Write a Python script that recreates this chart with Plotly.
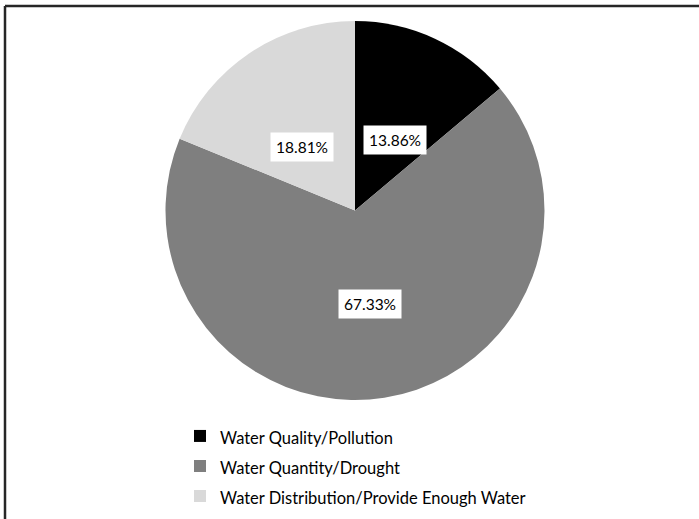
import math
import plotly.graph_objects as go

categories = ["Water Quality/Pollution", "Water Quantity/Drought", "Water Distribution/Provide Enough Water"]
values = [13.86, 67.33, 18.81]
colors = ["#000000", "#7f7f7f", "#d9d9d9"]

W, H = 699, 519
FONT = "Lato"

# pie placement (pixels)
cx_px, cy_px, R_px = 355, 210.5, 189.5
dom_x = [(cx_px - R_px) / W, (cx_px + R_px) / W]
dom_y = [(H - cy_px - R_px) / H, (H - cy_px + R_px) / H]

legend_labels = ['<span style="font-size:16.5px">%s</span>' % c for c in categories]

fig = go.Figure(go.Pie(
    labels=legend_labels,
    values=values,
    marker=dict(colors=colors, line=dict(width=0)),
    sort=False,
    direction="clockwise",
    rotation=0,
    textinfo="none",
    hoverinfo="label+percent",
    domain=dict(x=dom_x, y=dom_y),
))

# data labels in white boxes, placed at mid-angle of each slice
total = sum(values)
cum = 0.0
cxp = (dom_x[0] + dom_x[1]) / 2
cyp = (dom_y[0] + dom_y[1]) / 2
for v in values:
    mid = (cum + v / 2) / total * 2 * math.pi
    cum += v
    r = 0.5 * R_px
    fig.add_annotation(
        x=cxp + r * math.sin(mid) / W,
        y=cyp + r * math.cos(mid) / H,
        xref="paper", yref="paper",
        text="%.2f%%" % (v / total * 100),
        showarrow=False,
        font=dict(family=FONT, size=15.5, color="#000000"),
        bgcolor="#ffffff",
        borderpad=5,
    )

# chart frame (top and left edges visible)
fig.add_shape(type="line", xref="paper", yref="paper",
              x0=5 / W, x1=1.05, y0=(H - 6) / H, y1=(H - 6) / H,
              line=dict(color="#262626", width=2.5))
fig.add_shape(type="line", xref="paper", yref="paper",
              x0=5 / W, x1=5 / W, y0=-0.05, y1=(H - 6) / H,
              line=dict(color="#262626", width=2.5))

fig.update_layout(
    width=W, height=H,
    margin=dict(l=0, r=0, t=0, b=0),
    paper_bgcolor="#ffffff",
    plot_bgcolor="#ffffff",
    font=dict(family=FONT, color="#000000"),
    showlegend=True,
    legend=dict(
        x=180 / W, xanchor="left",
        y=0.004, yanchor="bottom",
        font=dict(family=FONT, size=20.8, color="#000000"),
        bgcolor="rgba(0,0,0,0)",
        traceorder="normal",
    ),
)

fig.write_html("out.html", config={"displayModeBar": False},
               post_script="document.body.style.margin='0px';")
